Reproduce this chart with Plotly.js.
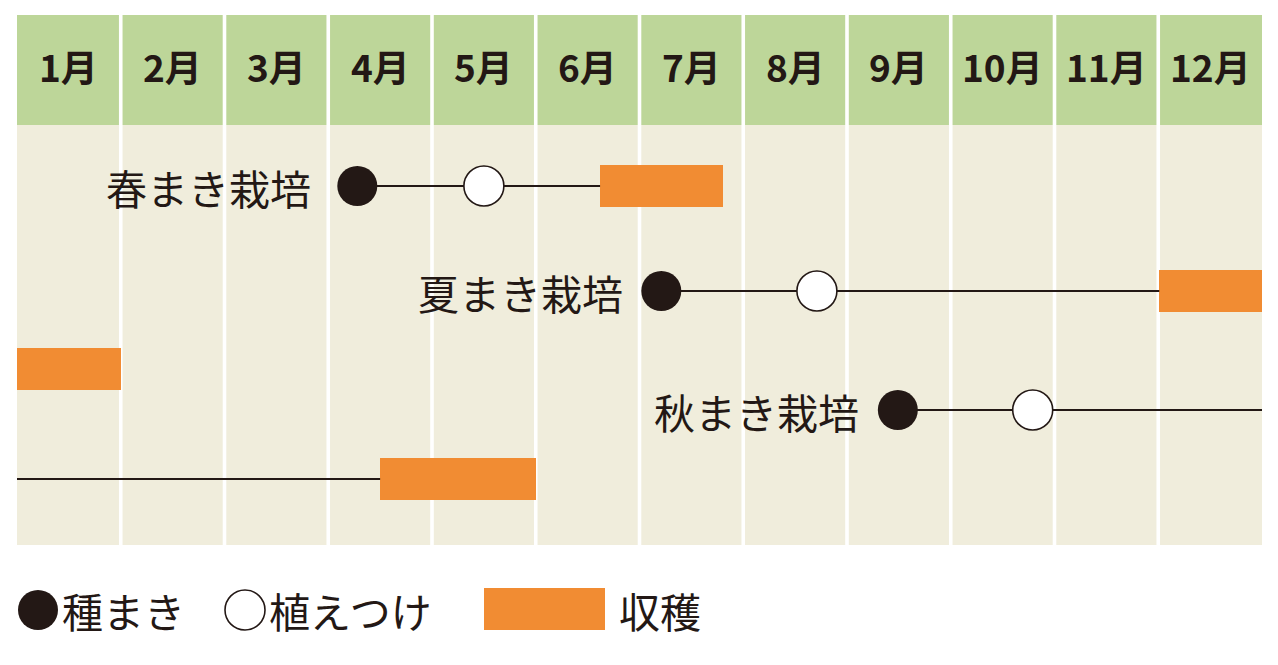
<!DOCTYPE html>
<html><head><meta charset="utf-8">
<script src="https://cdn.plot.ly/plotly-3.0.1.min.js"></script>
<style>html,body{margin:0;padding:0;background:#fff}#chart{width:1278px;height:665px}</style>
</head><body><div id="chart"></div>
<script>
// ---- data ----
const months = ['1月','2月','3月','4月','5月','6月','7月','8月','9月','10月','11月','12月'];
const crops = ['春まき栽培','夏まき栽培','秋まき栽培'];
// month positions (0 = start of January; values > 12 fall in the next year)
const sowMonth = [3.28, 6.21, 8.49];
const plantMonth = [4.50, 7.71, 9.79];
const harvestStart = [5.62, 11.01, 15.50];
const harvestEnd = [6.80, 13.00, 17.00];
const legendLabels = ['種まき', '植えつけ', '収穫'];

// ---- layout constants ----
const W = 1278, H = 665, L = 17, R = 16;
const colW = (W - L - R) / 12;
const px = p => (p - L) / colW;
const rowY = [186, 291, 410];
const wrapY = [null, 369, 479];
const labelShift = [-44, -36, -37];
const barH = 42;
const INK = '#231815', ORANGE = '#f18c33', GREEN = '#bdd699', BEIGE = '#f0eddc';
const FONT = '"Noto Sans CJK JP", "Noto Sans", sans-serif';

function split(a, b, i) {
  const out = [];
  if (a < 12) out.push([a, Math.min(b, 12), rowY[i]]);
  if (b > 12) out.push([Math.max(a, 12) - 12, b - 12, wrapY[i]]);
  return out;
}

// lines from sowing to harvest
const lx = [], ly = [];
crops.forEach((c, i) => {
  split(sowMonth[i], harvestStart[i], i).forEach(s => { lx.push(s[0], s[1], null); ly.push(s[2], s[2], null); });
});
// harvest bars
const bx = [], bb = [], by = [];
crops.forEach((c, i) => {
  split(harvestStart[i], harvestEnd[i], i).forEach(s => { bb.push(s[0]); bx.push(s[1] - s[0]); by.push(s[2]); });
});

const traces = [
  {type: 'scatter', mode: 'lines', x: lx, y: ly, line: {color: INK, width: 2}, hoverinfo: 'skip', showlegend: false},
  {type: 'bar', orientation: 'h', x: bx, base: bb, y: by, width: barH,
   marker: {color: ORANGE, line: {width: 0}}, hoverinfo: 'skip', showlegend: false},
  {type: 'scatter', mode: 'markers', x: sowMonth.concat([px(38)]), y: rowY.concat([610]),
   marker: {size: 40, color: INK, line: {width: 0}}, hoverinfo: 'skip', showlegend: false},
  {type: 'scatter', mode: 'markers', x: plantMonth.concat([px(245)]), y: rowY.concat([610]),
   marker: {size: 40, color: '#ffffff', line: {width: 1.6, color: INK}}, hoverinfo: 'skip', showlegend: false}
];

const shapes = [];
const g = 3.6 / colW;
months.forEach((m, i) => {
  const x0 = i + (i > 0 ? g / 2 : 0), x1 = i + 1 - (i < 11 ? g / 2 : 0);
  shapes.push({type: 'rect', layer: 'below', x0, x1, y0: 15, y1: 125, fillcolor: GREEN, line: {width: 0}});
  shapes.push({type: 'rect', layer: 'below', x0, x1, y0: 125, y1: 545, fillcolor: BEIGE, line: {width: 0}});
});
shapes.push({type: 'rect', x0: px(484), x1: px(605), y0: 588, y1: 630, fillcolor: ORANGE, line: {width: 0}});

const annotations = [];
months.forEach((m, i) => annotations.push({x: i + 0.5, y: 66, text: m, showarrow: false,
  font: {family: FONT, size: 37, color: INK, weight: 'bold'}, xanchor: 'center', yanchor: 'middle'}));
crops.forEach((c, i) => annotations.push({x: sowMonth[i], y: rowY[i] + 1, text: c, showarrow: false, xshift: labelShift[i],
  font: {family: FONT, size: 41, color: INK}, xanchor: 'right', yanchor: 'middle'}));
[[60, 0], [267, 1], [617, 2]].forEach(([p, k]) => annotations.push({x: px(p), y: 610, text: legendLabels[k], showarrow: false,
  font: {family: FONT, size: 41, color: INK}, xanchor: 'left', yanchor: 'middle'}));

const layout = {
  width: W, height: H, margin: {l: L, r: R, t: 0, b: 0}, paper_bgcolor: '#fff', plot_bgcolor: '#fff',
  xaxis: {range: [0, 12], visible: false, fixedrange: true},
  yaxis: {range: [H, 0], visible: false, fixedrange: true},
  shapes, annotations, showlegend: false, bargap: 0
};
Plotly.newPlot('chart', traces, layout, {displayModeBar: false, staticPlot: true});
</script></body></html>
